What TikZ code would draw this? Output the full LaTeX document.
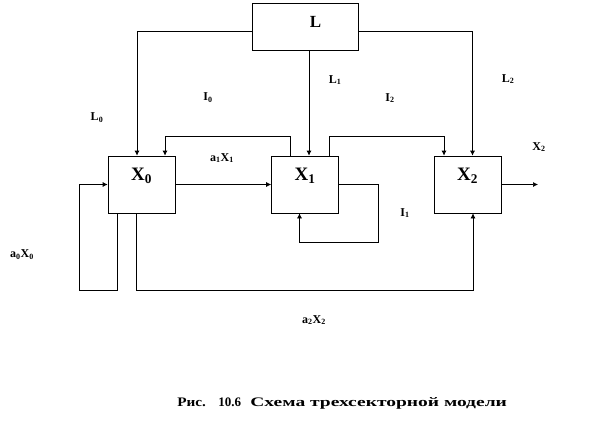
\documentclass[tikz,border=0pt]{standalone}
\usepackage{fontspec}
\setmainfont{Liberation Serif}
\usetikzlibrary{arrows.meta,calc,positioning}

\begin{document}
\begin{tikzpicture}[x=1pt,y=-1pt,>={Latex[length=5pt,width=5pt]},line width=.7pt,
 box/.style={draw,minimum width=67pt,minimum height=57pt,inner sep=0pt},
 lbl/.style={font=\fontsize{12}{14}\selectfont\bfseries,inner sep=0pt},
 boxlbl/.style={font=\fontsize{19}{22}\selectfont\bfseries,inner sep=0pt,anchor=base},
 captxt/.style={font=\fontsize{13}{15}\selectfont\bfseries,inner sep=0pt,anchor=base west}]
\useasboundingbox (0,0) rectangle (609,433);
% blocks
\node[draw,minimum width=106pt,minimum height=47pt,inner sep=0pt] (L) at (305,26.5) {};
\node[font=\fontsize{17}{20}\selectfont\bfseries,inner sep=0pt] (Lt) at (315.5,22) {L};
\node[box] (X0) at (141.5,184.5) {};
\node[box] (X1) at (305,184.5) {};
\node[box] (X2) at (467.5,184.5) {};
\node[boxlbl] (X0t) at ([yshift=4pt]X0.center) {X\textsubscript{0}};
\node[boxlbl] (X1t) at ([yshift=4pt]X1.center) {X\textsubscript{1}};
\node[boxlbl] (X2t) at ([yshift=4pt]X2.center) {X\textsubscript{2}};
% free ends
\coordinate (in0) at (79,184.5);
\coordinate (out2) at (538,184.5);
% labour
\draw[->] ([yshift=-4.5pt]L.west) -| ([xshift=-4.5pt]X0.north);
\draw[->] ([xshift=4pt]L.south) -- ([xshift=4pt]X1.north);
\draw[->] ([yshift=-4.5pt]L.east) -| ([xshift=5pt]X2.north);
% investments
\draw[->] ([xshift=-15pt]X1.north) -- ++(0,-19) -| ([xshift=23.5pt]X0.north);
\draw[->] ([xshift=24pt]X1.north) -- ++(0,-19) -| ([xshift=-23.5pt]X2.north);
\draw[->] (X1.east) -- ++(39,0) -- ++(0,57.5) -| ([xshift=-5.5pt]X1.south);
% flows
\draw[->] (X0.east) -- (X1.west);
\draw[->] ([xshift=-24pt]X0.south) -- ++(0,77) -| (in0) -- (X0.west);
\draw[->] ([xshift=-4.7pt]X0.south) -- ++(0,77) -| ([xshift=5.5pt]X2.south);
\draw[->] (X2.east) -- (out2);
% labels
\node[lbl] (lL0) at (97,118) {L\textsubscript{0}};
\node[lbl] (lI0) at (208,98) {I\textsubscript{0}};
\node[lbl] (la1) at (222,158) {a\textsubscript{1}X\textsubscript{1}};
\node[lbl] (lL1) at (335,80) {L\textsubscript{1}};
\node[lbl] (lI2) at (390,98) {I\textsubscript{2}};
\node[lbl] (lL2) at (508,79) {L\textsubscript{2}};
\node[lbl] (lX2) at (539,147) {X\textsubscript{2}};
\node[lbl] (lI1) at (405,213) {I\textsubscript{1}};
\node[lbl] (la0) at (22,255) {a\textsubscript{0}X\textsubscript{0}};
\node[lbl] (la2) at (314,320) {a\textsubscript{2}X\textsubscript{2}};
% caption
\node[captxt] (cap1) at (177,406) {\scalebox{1.17}[1]{Рис.}};
\node[captxt] (cap2) at (218,406) {10.6};
\node[captxt] (cap3) at (250,406) {\scalebox{1.5}[1]{Схема трехсекторной модели}};
\end{tikzpicture}
\end{document}
